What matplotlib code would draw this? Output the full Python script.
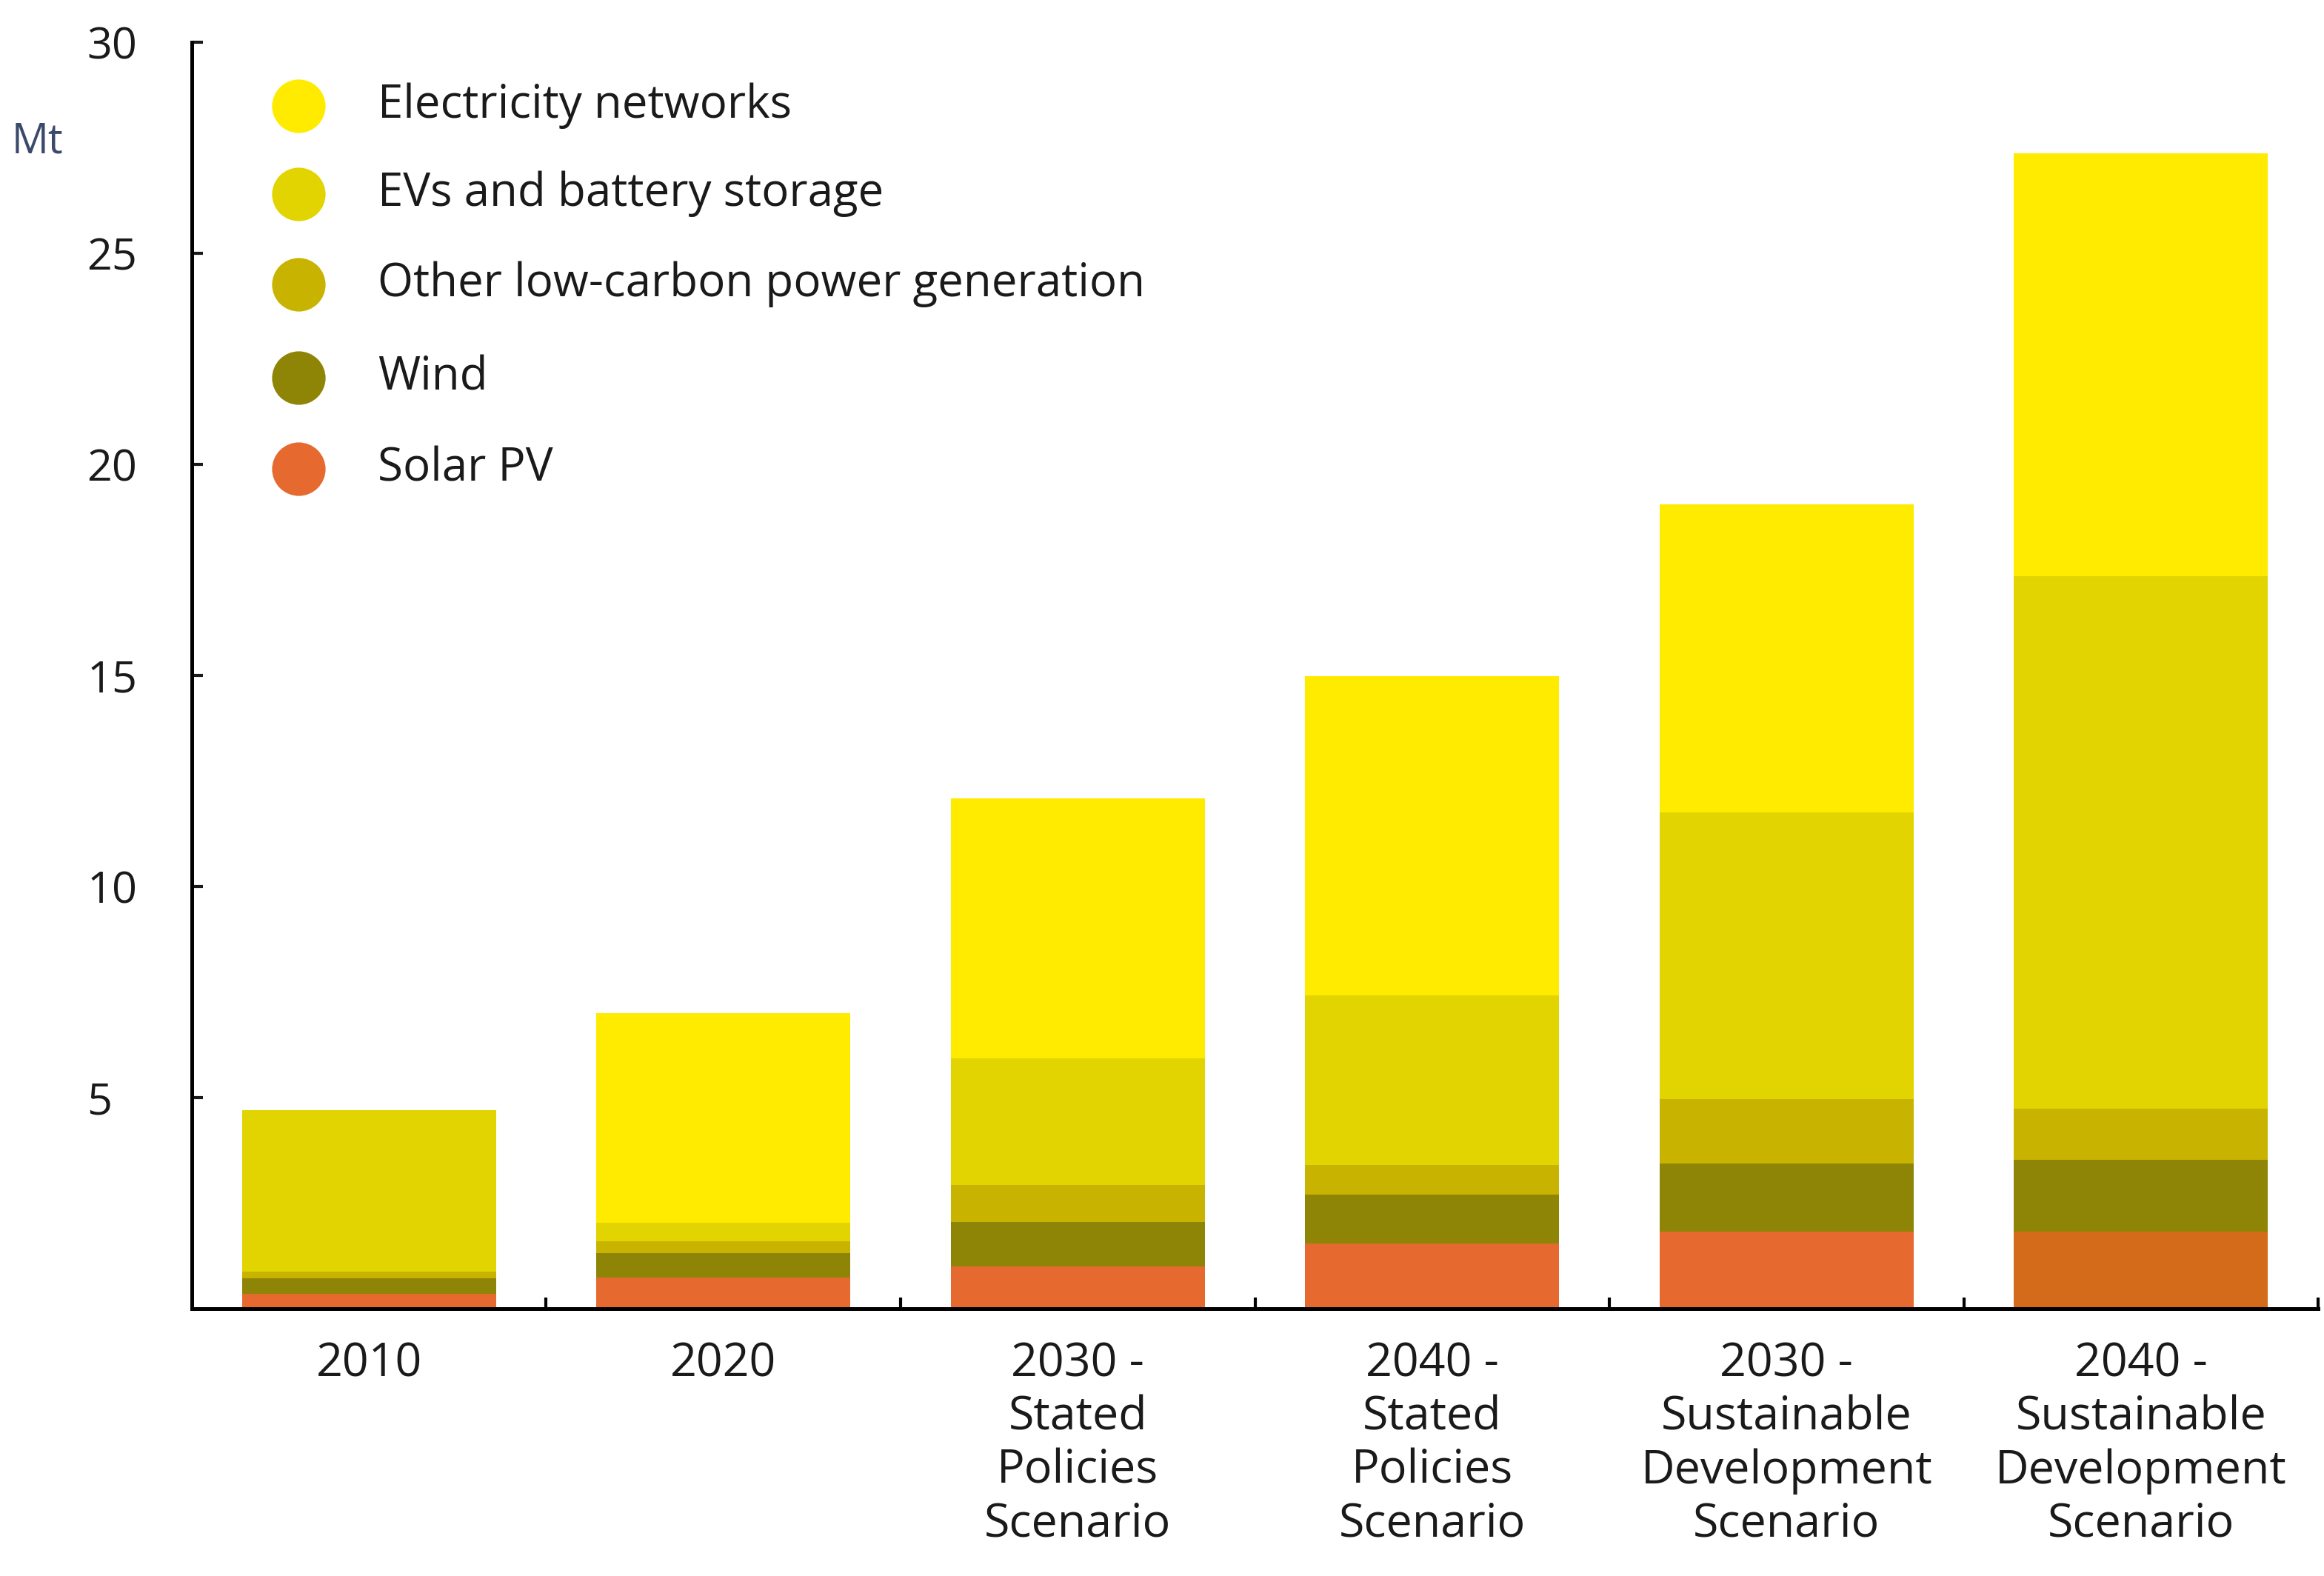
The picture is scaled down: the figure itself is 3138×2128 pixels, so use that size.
import numpy as np
import matplotlib.pyplot as plt

plt.rcParams['font.family'] = ['Open Sans', 'DejaVu Sans']

categories = ['2010', '2020', '2030 -\nStated\nPolicies\nScenario', '2040 -\nStated\nPolicies\nScenario',
              '2030 -\nSustainable\nDevelopment\nScenario', '2040 -\nSustainable\nDevelopment\nScenario']

# Mt (stacked bottom to top)
solar_pv = [0.35, 0.74, 1.00, 1.55, 1.83, 1.83]
wind = [0.37, 0.58, 1.05, 1.15, 1.60, 1.70]
other_low_carbon = [0.16, 0.28, 0.87, 0.71, 1.53, 1.20]
evs_battery = [3.82, 0.44, 3.00, 4.01, 6.79, 12.62]
electricity_networks = [0.0, 4.96, 6.17, 7.56, 7.30, 10.02]

series = [
    ('Solar PV', solar_pv, '#E66A30'),
    ('Wind', wind, '#8E8506'),
    ('Other low-carbon power generation', other_low_carbon, '#C8B400'),
    ('EVs and battery storage', evs_battery, '#E2D400'),
    ('Electricity networks', electricity_networks, '#FFEB00'),
]

fig = plt.figure(figsize=(15.69, 10.64), dpi=200)
ax = fig.add_axes([0.0825, 0.1697, 0.915, 0.8035])

x = np.arange(len(categories))
bottom = np.zeros(len(categories))
for name, vals, col in series:
    vals = np.array(vals)
    colors = [col] * len(categories)
    if name == 'Solar PV':
        colors[-1] = '#D46B1A'  # last bar is a slightly darker orange in the source
    ax.bar(x, vals, width=0.717, bottom=bottom, color=colors, linewidth=0)
    bottom += vals

ax.set_xlim(-0.5, 5.5)
ax.set_ylim(0, 30)

for s in ['top', 'right']:
    ax.spines[s].set_visible(False)
for s in ['left', 'bottom']:
    ax.spines[s].set_linewidth(1.8)
    ax.spines[s].set_color('black')

ax.set_yticks([5, 10, 15, 20, 25, 30])
ax.tick_params(axis='y', direction='in', length=5.5, width=1.5, pad=51, labelsize=21.4, colors='#1a1a1a')
for lab in ax.get_yticklabels():
    lab.set_horizontalalignment('left')

ax.set_xticks(x)
ax.set_xticklabels(categories, fontsize=22.6, color='#1a1a1a', linespacing=1.2)
ax.set_xticks(np.arange(0.5, 6, 1), minor=True)
ax.tick_params(axis='x', which='major', length=0, pad=16)
ax.tick_params(axis='x', which='minor', direction='in', length=5.5, width=1.5)

fig.text(0.005, 0.910, 'Mt', fontsize=20, color='#3b4a6b', va='center', ha='left')

# legend drawn as circles + labels
leg_y = [0.950, 0.880, 0.809, 0.735, 0.663]
for (name, vals, col), yy in zip(series[::-1], leg_y):
    ax.scatter([0.0501], [yy], s=26 ** 2, color=col, transform=ax.transAxes, clip_on=False, linewidths=0)
    ax.text(0.0874, yy, name, transform=ax.transAxes, fontsize=22.3, va='center', ha='left', color='#1a1a1a')

fig.savefig('out.png', dpi=200, facecolor='white')
